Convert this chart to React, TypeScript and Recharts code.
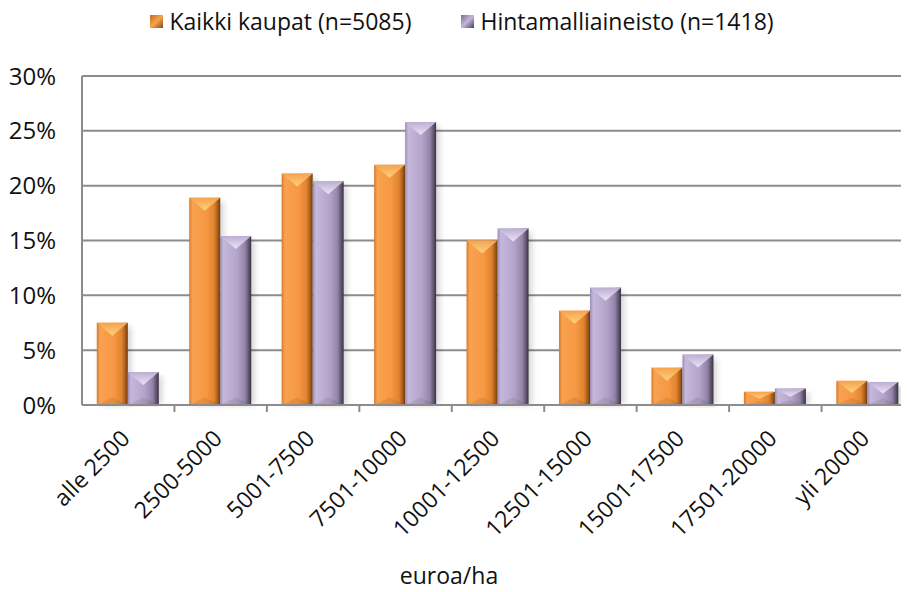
import React from 'react';
import { BarChart, Bar, XAxis, YAxis, CartesianGrid, Legend, Label } from 'recharts';

const categories = ['alle 2500', '2500-5000', '5001-7500', '7501-10000', '10001-12500', '12501-15000', '15001-17500', '17501-20000', 'yli 20000'];
const kaikkiKaupat = [7.5, 18.9, 21.1, 21.9, 15.0, 8.6, 3.4, 1.2, 2.2];
const hintamalli = [3.0, 15.4, 20.4, 25.8, 16.1, 10.7, 4.6, 1.5, 2.1];
const yTicks = [0, 5, 10, 15, 20, 25, 30];

const data = categories.map((name, i) => ({ name, kaikki: kaikkiKaupat[i], hinta: hintamalli[i] }));

const FONT = '"Open Sans", sans-serif';
const BAND = 832 / 9;

const makeBevel = (id: string) => (props: any) => {
  const { x, y, width, height } = props;
  if (!height || height <= 0) return null;
  const t = Math.min(13, height / 2);
  return (
    <g>
      <rect x={x + 3} y={y + 4} width={width} height={height - 4} fill="#000" opacity={0.18} filter="url(#blur)" />
      <rect x={x} y={y} width={width} height={height} fill={`url(#side${id})`} />
      <polygon points={`${x},${y} ${x + width},${y} ${x + width / 2},${y + t}`} fill={`url(#top${id})`} />
      <polygon points={`${x},${y + height} ${x + width},${y + height} ${x + width / 2},${y + height - t * 0.6}`} fill="#000" opacity={0.08} />
    </g>
  );
};

const XTick = (props: any) => {
  const { x, y, payload, index } = props;
  return (
    <g>
      {index < categories.length - 1 && (
        <line x1={x + BAND / 2} x2={x + BAND / 2} y1={y - 8} y2={y - 1} stroke="#8c8c8c" strokeWidth={2} />
      )}
      <text x={x + 3} y={y + 27} textAnchor="end" transform={`rotate(-45, ${x + 3}, ${y + 27})`} fontSize={23} fontFamily={FONT} fill="#111">
        {payload.value}
      </text>
    </g>
  );
};

const LegendContent = () => (
  <div style={{ display: 'flex', justifyContent: 'center', gap: 50, fontFamily: FONT, fontSize: 23, color: '#111', marginLeft: 10 }}>
    <span style={{ display: 'flex', alignItems: 'center' }}>
      <span style={{ width: 13, height: 13, marginRight: 6, background: 'linear-gradient(135deg, #c06a20, #f8a24c 50%, #8a4a14)' }} />
      Kaikki kaupat (n=5085)
    </span>
    <span style={{ display: 'flex', alignItems: 'center' }}>
      <span style={{ width: 13, height: 13, marginRight: 6, background: 'linear-gradient(135deg, #7c6e90, #c4b5db 50%, #4a4058)' }} />
      Hintamalliaineisto (n=1418)
    </span>
  </div>
);

export default function App() {
  return (
    <div style={{ margin: -8, width: 909, height: 592, overflow: 'hidden', background: '#fff' }}>
      <BarChart width={920} height={592} data={data} margin={{ top: 44, right: 6, left: 0, bottom: 0 }} barCategoryGap="16%" barGap={0}>
        <defs>
          <linearGradient id="sideO" x1="0" y1="0" x2="1" y2="0">
            <stop offset="0%" stopColor="#d9772a" />
            <stop offset="10%" stopColor="#f8a250" />
            <stop offset="55%" stopColor="#f79843" />
            <stop offset="80%" stopColor="#e0842f" />
            <stop offset="92%" stopColor="#a85c1c" />
            <stop offset="100%" stopColor="#6e3a0e" />
          </linearGradient>
          <linearGradient id="sideP" x1="0" y1="0" x2="1" y2="0">
            <stop offset="0%" stopColor="#9a8cb0" />
            <stop offset="10%" stopColor="#c6b8dc" />
            <stop offset="55%" stopColor="#b3a3cb" />
            <stop offset="80%" stopColor="#9384a8" />
            <stop offset="92%" stopColor="#5f536f" />
            <stop offset="100%" stopColor="#3a3244" />
          </linearGradient>
          <linearGradient id="topO" x1="0" y1="0" x2="0" y2="1">
            <stop offset="0%" stopColor="#f6a24e" />
            <stop offset="100%" stopColor="#fdd27e" />
          </linearGradient>
          <linearGradient id="topP" x1="0" y1="0" x2="0" y2="1">
            <stop offset="0%" stopColor="#bcaed2" />
            <stop offset="100%" stopColor="#ece4f6" />
          </linearGradient>
          <filter id="blur" x="-20%" y="-5%" width="140%" height="110%">
            <feGaussianBlur stdDeviation="3" />
          </filter>
        </defs>
        <CartesianGrid vertical={false} stroke="#8c8c8c" strokeWidth={2} />
        <Legend verticalAlign="top" content={LegendContent} wrapperStyle={{ top: 5 }} />
        <XAxis
          dataKey="name"
          interval={0}
          height={187}
          tick={XTick}
          tickLine={false}
          axisLine={{ stroke: '#8c8c8c', strokeWidth: 2 }}
        >
          <Label value="euroa/ha" position="insideBottom" offset={8} dx={-49} style={{ fontFamily: FONT, fontSize: 23, fill: '#111' }} />
        </XAxis>
        <YAxis
          width={82}
          domain={[0, 30]}
          ticks={yTicks}
          tickFormatter={(v: number) => `${v}%`}
          tickLine={false}
          tickMargin={20}
          axisLine={{ stroke: '#8c8c8c', strokeWidth: 2 }}
          tick={{ fontFamily: FONT, fontSize: 24, fill: '#111' }}
        />
        <Bar dataKey="kaikki" name="Kaikki kaupat (n=5085)" fill="#f79646" shape={makeBevel('O')} isAnimationActive={false} />
        <Bar dataKey="hinta" name="Hintamalliaineisto (n=1418)" fill="#b3a2c7" shape={makeBevel('P')} isAnimationActive={false} />
      </BarChart>
    </div>
  );
}
